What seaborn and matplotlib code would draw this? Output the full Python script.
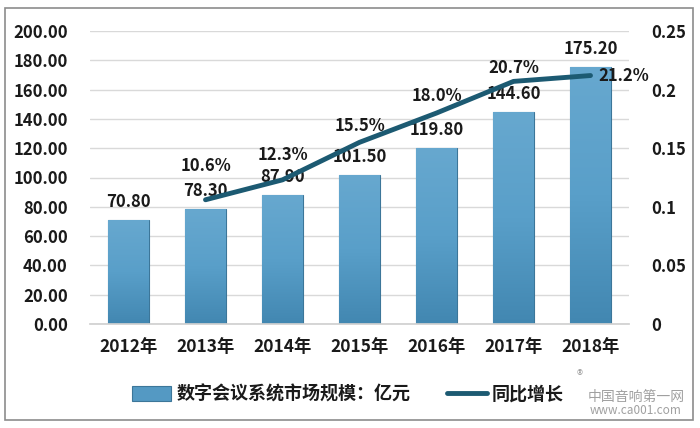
import numpy as np
import pandas as pd
import matplotlib
matplotlib.use("Agg")
import matplotlib.pyplot as plt
import seaborn as sns
from matplotlib.patches import Rectangle
from matplotlib.colors import LinearSegmentedColormap

years = ["2012年", "2013年", "2014年", "2015年", "2016年", "2017年", "2018年"]
market_size = [70.80, 78.30, 87.90, 101.50, 119.80, 144.60, 175.20]
growth = [np.nan, 0.106, 0.123, 0.155, 0.180, 0.207, 0.212]
growth_labels = ["", "10.6%", "12.3%", "15.5%", "18.0%", "20.7%", "21.2%"]
left_ticks = [0, 20, 40, 60, 80, 100, 120, 140, 160, 180, 200]
right_ticks = [0, 0.05, 0.1, 0.15, 0.2, 0.25]
right_tick_labels = ["0", "0.05", "0.1", "0.15", "0.2", "0.25"]
bar_name = "数字会议系统市场规模：亿元"
line_name = "同比增长"

sns.set_theme(style="white")
plt.rcParams["font.family"] = ["Noto Sans CJK SC", "DejaVu Sans"]
plt.rcParams["font.weight"] = "bold"

df = pd.DataFrame({"year": years, "size": market_size, "growth": growth})

fig = plt.figure(figsize=(7.0, 4.28), dpi=100)
ax = fig.add_axes([90 / 700, 1 - 324 / 428, 539 / 700, 293 / 428])

bar_color = "#5499c3"
sns.barplot(data=df, x="year", y="size", ax=ax, color=bar_color, width=0.52,
            edgecolor="#3c7699", linewidth=0.8, saturation=1, label=bar_name)

# gradient fill inside bars
cmap = LinearSegmentedColormap.from_list("g", ["#4287b1", "#599fc9", "#67a8cf"])
grad = np.linspace(0, 1, 256).reshape(-1, 1)
for p in ax.patches:
    x0, y0 = p.get_x(), p.get_y()
    w, h = p.get_width(), p.get_height()
    im = ax.imshow(grad, extent=[x0, x0 + w, y0, y0 + h], origin="lower",
                   cmap=cmap, aspect="auto", zorder=p.get_zorder() + 0.1)
    im.set_clip_path(p)

ax.set_xlim(-0.5, 6.5)
ax.set_ylim(0, 200)
ax.set_yticks(left_ticks)
ax.set_yticklabels([f"{v:.2f}" for v in left_ticks])
ax.set_xlabel("")
ax.set_ylabel("")
ax.yaxis.grid(True, color="#d9d9d9", linewidth=1)
ax.set_axisbelow(True)
for s in ["top", "right", "left"]:
    ax.spines[s].set_visible(False)
ax.spines["bottom"].set_color("#d0d0d0")
ax.tick_params(axis="y", length=0, pad=16, labelsize=12)
ax.tick_params(axis="x", length=0, pad=10, labelsize=12.5)
for t in ax.get_xticklabels() + ax.get_yticklabels():
    t.set_fontweight("bold")
    t.set_color("#1a1a1a")

# bar value labels
for i, v in enumerate(market_size):
    ax.annotate(f"{v:.2f}", (i, v), xytext=(0, 13), textcoords="offset points",
                ha="center", va="center", fontsize=12, fontweight="bold", color="#1a1a1a")

ax2 = ax.twinx()
sns.lineplot(data=df, x="year", y="growth", ax=ax2, color="#1c5a72", linewidth=3.5,
             label=line_name, legend=False)
ax2.set_ylim(0, 0.25)
ax2.set_yticks(right_ticks)
ax2.set_yticklabels(right_tick_labels)
ax2.set_ylabel("")
for s in ["top", "right", "left", "bottom"]:
    ax2.spines[s].set_visible(False)
ax2.tick_params(axis="y", length=0, pad=16, labelsize=12)
for t in ax2.get_yticklabels():
    t.set_fontweight("bold")
    t.set_color("#1a1a1a")

label_offsets = [(0, 0), (0, 24), (0, 18), (0, 12), (0, 12), (0, 10), (24, 0)]
for i, (g, lab) in enumerate(zip(growth, growth_labels)):
    if lab:
        ax2.annotate(lab, (i, g), xytext=label_offsets[i], textcoords="offset points",
                     ha="center", va="center", fontsize=12, fontweight="bold", color="#1a1a1a")

# legend
h1, l1 = ax.get_legend_handles_labels()
h2, l2 = ax2.get_legend_handles_labels()
if ax.get_legend():
    ax.get_legend().remove()
leg = fig.legend(h1[:1] + h2[:1], [bar_name, line_name], loc="center",
                 bbox_to_anchor=(0.497, 1 - 394 / 428), ncol=2, frameon=False,
                 prop={"size": 13, "weight": "bold"}, handlelength=2.2,
                 handleheight=0.9, columnspacing=2.0, handletextpad=0.3)
for t in leg.get_texts():
    t.set_color("#1a1a1a")

# outer border
fig.patches.append(Rectangle((5 / 700, 1 - 420 / 428), 688 / 700, 412 / 428,
                             transform=fig.transFigure, fill=False,
                             edgecolor="#8c8c8c", linewidth=1.2))

# watermark
fig.text(588 / 700, 1 - 397 / 428, "中国音响第一网", fontsize=10, color="#a0a0a0",
         ha="left", va="center", fontweight="normal")
fig.text(590 / 700, 1 - 411 / 428, "www.ca001.com", fontsize=8.5, color="#a0a0a0",
         ha="left", va="center", fontweight="normal")
fig.text(580 / 700, 1 - 376 / 428, "®", fontsize=9, color="#a0a0a0",
         ha="center", va="center", fontweight="normal")

fig.savefig("out.png", dpi=100)
